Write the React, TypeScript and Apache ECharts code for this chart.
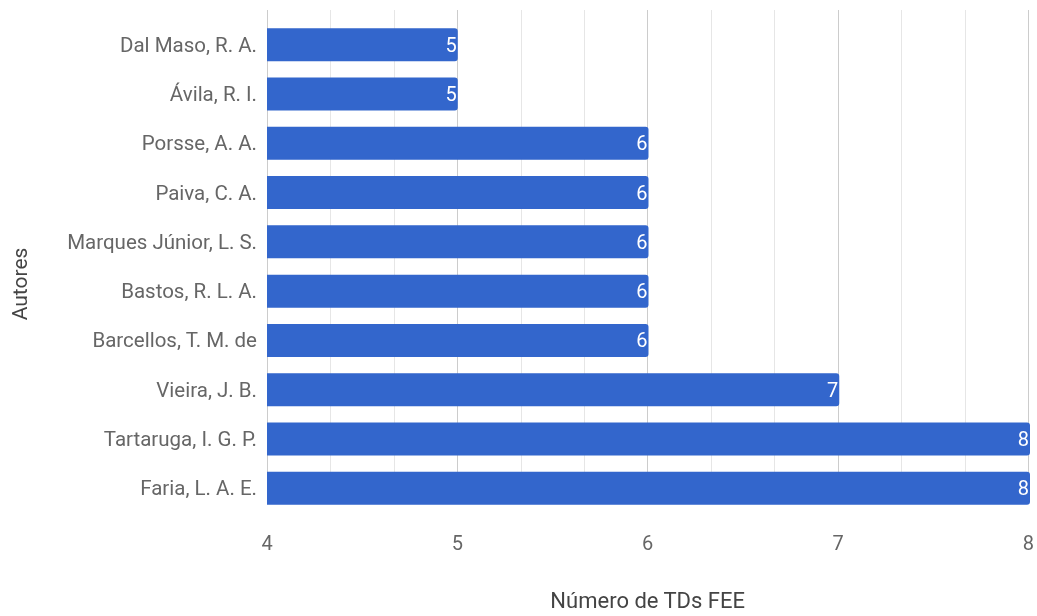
import React, { useEffect, useRef } from "react";
import * as echarts from "echarts";

const authors = [
  "Dal Maso, R. A.",
  "Ávila, R. I.",
  "Porsse, A. A.",
  "Paiva, C. A.",
  "Marques Júnior, L. S.",
  "Bastos, R. L. A.",
  "Barcellos, T. M. de",
  "Vieira, J. B.",
  "Tartaruga, I. G. P.",
  "Faria, L. A. E.",
];
const counts = [5, 5, 6, 6, 6, 6, 6, 7, 8, 8];
const xTicks = [4, 5, 6, 7, 8];
const xTitle = "Número de TDs FEE";
const yTitle = "Autores";

export default function App() {
  const ref = useRef<HTMLDivElement>(null);
  useEffect(() => {
    if (!ref.current) return;
    const chart = echarts.init(ref.current, null, { renderer: "svg" });
    const font = "Roboto, 'Noto Sans', sans-serif";
    chart.setOption({
      animation: false,
      textStyle: { fontFamily: font },
      grid: [
        { left: 267, right: 7, top: 20, height: 493, containLabel: false },
        { left: 267, right: 7, top: 10, bottom: 93, containLabel: false },
      ],
      graphic: [
        {
          type: "text",
          x: 20,
          y: 284,
          rotation: Math.PI / 2,
          style: {
            text: yTitle,
            fill: "#444",
            font: `21px ${font}`,
            align: "center",
            verticalAlign: "middle",
          },
        },
      ],
      xAxis: [
        {
          gridIndex: 0,
          type: "value",
          min: xTicks[0],
          max: xTicks[xTicks.length - 1],
          interval: 1,
          axisLine: { show: false },
          axisTick: { show: false },
          axisLabel: { show: false },
          splitLine: { show: false },
        },
        {
          gridIndex: 1,
          type: "value",
          min: xTicks[0],
          max: xTicks[xTicks.length - 1],
          interval: 1,
          axisLine: { show: false },
          axisTick: { show: false },
          axisLabel: {
            color: "#666",
            fontSize: 20,
            margin: 36,
            fontFamily: font,
          },
          splitLine: { show: true, lineStyle: { color: "#cccccc", width: 1 } },
          minorTick: { show: false, splitNumber: 3 },
          minorSplitLine: { show: true, lineStyle: { color: "#e6e6e6", width: 1 } },
          name: xTitle,
          nameLocation: "middle",
          nameGap: 92,
          nameTextStyle: { color: "#444", fontSize: 22, fontFamily: font },
        },
      ],
      yAxis: [
        {
          gridIndex: 0,
          type: "category",
          data: authors,
          inverse: true,
          axisLine: { show: false },
          axisTick: { show: false },
          axisLabel: { color: "#666", fontSize: 20.5, margin: 10, fontFamily: font },
        },
        {
          gridIndex: 1,
          type: "value",
          show: false,
          splitLine: { show: false },
        },
      ],
      series: [
        {
          type: "bar",
          xAxisIndex: 0,
          yAxisIndex: 0,
          data: counts,
          barCategoryGap: "33%",
          itemStyle: { color: "#3366cc", borderRadius: [0, 3, 3, 0] },
          label: {
            show: true,
            position: "insideRight",
            distance: 2,
            offset: [1, 0],
            color: "#ffffff",
            fontSize: 20,
            fontFamily: font,
          },
          z: 3,
        },
      ],
    });
    return () => chart.dispose();
  }, []);
  return (
    <div
      ref={ref}
      style={{ position: "fixed", left: 0, top: 0, width: 1037, height: 616 }}
    />
  );
}
